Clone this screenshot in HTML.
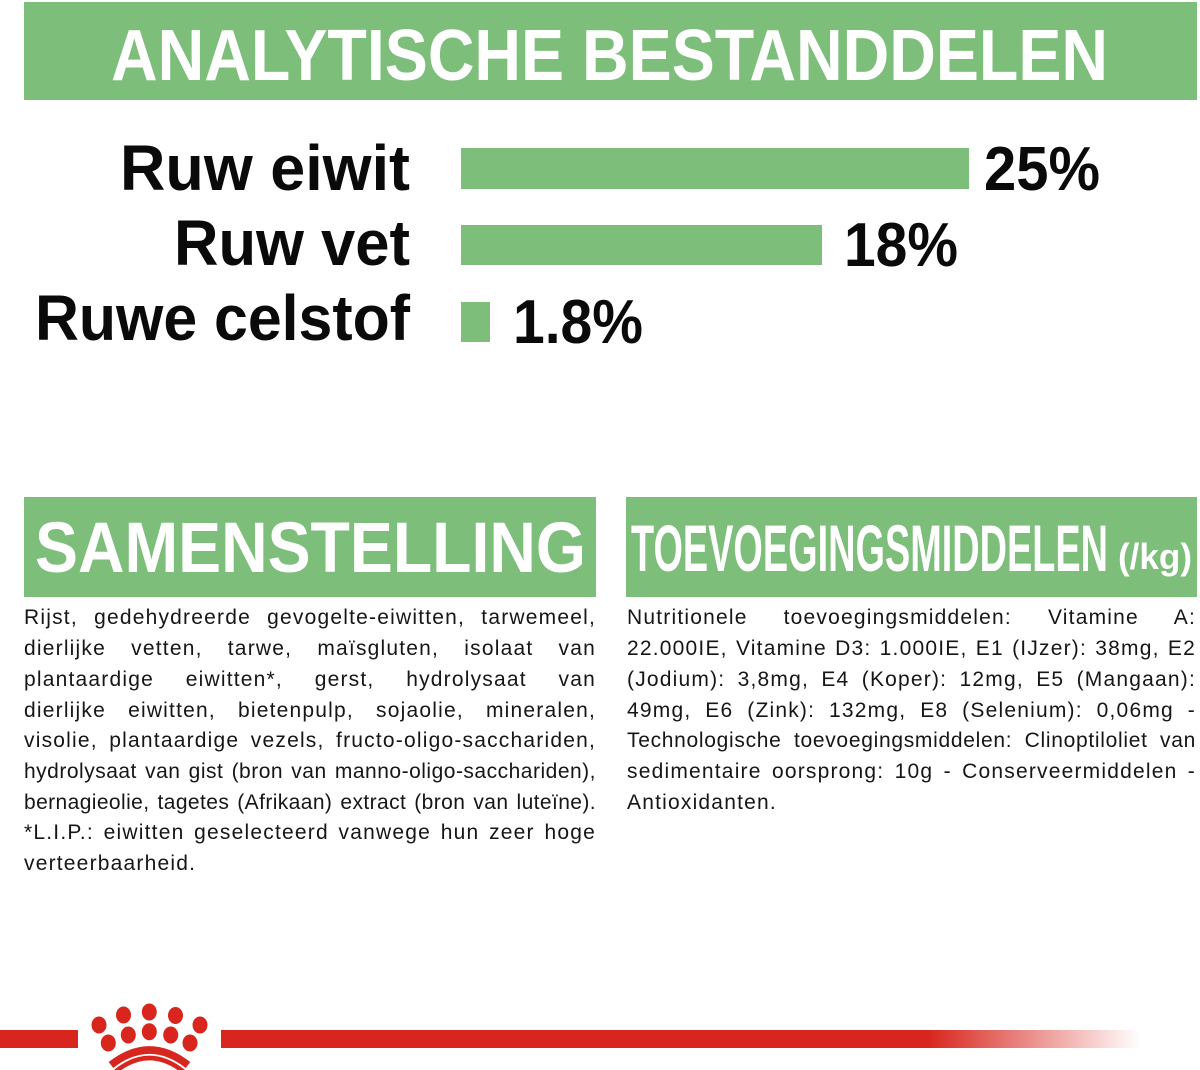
<!DOCTYPE html>
<html>
<head>
<meta charset="utf-8">
<style>
  html,body{margin:0;padding:0;background:#fff;}
  body{width:1200px;height:1070px;overflow:hidden;position:relative;}
  svg{position:absolute;left:0;top:0;}
  .col{position:absolute;font-family:"Liberation Sans",Arial,sans-serif;font-size:21px;line-height:30.7px;color:#161616;letter-spacing:1.2px;}
  .col div{white-space:nowrap;text-align:justify;text-align-last:justify;}
  .col div.last{text-align:left;text-align-last:left;}
  #left{left:24px;top:603.4px;width:572px;}
  #right{left:627px;top:603.4px;width:569px;}
</style>
</head>
<body>
<svg width="1200" height="1070" viewBox="0 0 1200 1070" xmlns="http://www.w3.org/2000/svg">
  <defs>
    <linearGradient id="fade" x1="0" y1="0" x2="1" y2="0" gradientUnits="objectBoundingBox">
      <stop offset="0" stop-color="#d8261e"/>
      <stop offset="0.77" stop-color="#d8261e"/>
      <stop offset="1" stop-color="#d8261e" stop-opacity="0"/>
    </linearGradient>
  </defs>

  <!-- Header -->
  <rect x="24" y="2" width="1173" height="98" fill="#7cbe7a"/>
  <text x="111" y="80" font-family="Liberation Sans, Arial, sans-serif" font-weight="bold" font-size="72" fill="#fff" textLength="997" lengthAdjust="spacingAndGlyphs">ANALYTISCHE BESTANDDELEN</text>

  <!-- Labels -->
  <g font-family="Liberation Sans, Arial, sans-serif" font-weight="bold" fill="#0a0a0a">
    <text x="120" y="190" font-size="64" textLength="290" lengthAdjust="spacingAndGlyphs">Ruw eiwit</text>
    <text x="174" y="265" font-size="64" textLength="236" lengthAdjust="spacingAndGlyphs">Ruw vet</text>
    <text x="35" y="340" font-size="64" textLength="375" lengthAdjust="spacingAndGlyphs">Ruwe celstof</text>

    <text x="984" y="190" font-size="62" textLength="116" lengthAdjust="spacingAndGlyphs">25%</text>
    <text x="844" y="266" font-size="62" textLength="114" lengthAdjust="spacingAndGlyphs">18%</text>
    <text x="513" y="343" font-size="62" textLength="130" lengthAdjust="spacingAndGlyphs">1.8%</text>
  </g>

  <!-- Bars -->
  <rect x="461" y="148" width="508" height="41" fill="#7cbe7a"/>
  <rect x="461" y="225" width="361" height="40" fill="#7cbe7a"/>
  <rect x="461" y="302" width="29" height="40" fill="#7cbe7a"/>

  <!-- Section headers -->
  <rect x="24" y="497" width="572" height="100" fill="#7cbe7a"/>
  <text x="35" y="572" font-family="Liberation Sans, Arial, sans-serif" font-weight="bold" font-size="71" fill="#fff" textLength="551" lengthAdjust="spacingAndGlyphs">SAMENSTELLING</text>

  <rect x="626" y="497" width="571" height="100" fill="#7cbe7a"/>
  <text x="631" y="571" font-family="Liberation Sans, Arial, sans-serif" font-weight="bold" font-size="66" fill="#fff" textLength="477" lengthAdjust="spacingAndGlyphs">TOEVOEGINGSMIDDELEN</text>
  <text x="1118" y="569" font-family="Liberation Sans, Arial, sans-serif" font-weight="bold" font-size="36" fill="#fff" textLength="74" lengthAdjust="spacingAndGlyphs">(/kg)</text>

  <!-- Bottom red line -->
  <rect x="0" y="1030" width="78" height="18" fill="#d8261e"/>
  <rect x="221" y="1030" width="919" height="18" fill="url(#fade)"/>

  <!-- Crown logo -->
  <g fill="#d8261e">
    <ellipse cx="99" cy="1025" rx="7.5" ry="8.5"/>
    <ellipse cx="123.5" cy="1015" rx="7.5" ry="8.5"/>
    <ellipse cx="149.3" cy="1012" rx="7.5" ry="8.5"/>
    <ellipse cx="175.5" cy="1015.5" rx="7.5" ry="8.5"/>
    <ellipse cx="200" cy="1025" rx="7.5" ry="8.5"/>
    <ellipse cx="128.3" cy="1035" rx="7.5" ry="8.5"/>
    <ellipse cx="149.3" cy="1031.7" rx="7.5" ry="8.5"/>
    <ellipse cx="170.7" cy="1035" rx="7.5" ry="8.5"/>
    <ellipse cx="108.3" cy="1043" rx="7.5" ry="8.5"/>
    <ellipse cx="190" cy="1043" rx="7.5" ry="8.5"/>
  </g>
  <path d="M111 1065 Q149.3 1035 188 1065" fill="none" stroke="#d8261e" stroke-width="7.5"/>
  <path d="M115 1072 Q149.3 1044 184 1072" fill="none" stroke="#d8261e" stroke-width="4.5"/>
</svg>

<div class="col" id="left">
  <div>Rijst, gedehydreerde gevogelte-eiwitten, tarwemeel,</div>
  <div>dierlijke vetten, tarwe, maïsgluten, isolaat van</div>
  <div>plantaardige eiwitten*, gerst, hydrolysaat van</div>
  <div>dierlijke eiwitten, bietenpulp, sojaolie, mineralen,</div>
  <div>visolie, plantaardige vezels, fructo-oligo-sacchariden,</div>
  <div style="letter-spacing:0.5px">hydrolysaat van gist (bron van manno-oligo-sacchariden),</div>
  <div style="letter-spacing:0.4px">bernagieolie, tagetes (Afrikaan) extract (bron van luteïne).</div>
  <div>*L.I.P.: eiwitten geselecteerd vanwege hun zeer hoge</div>
  <div class="last">verteerbaarheid.</div>
</div>

<div class="col" id="right">
  <div>Nutritionele toevoegingsmiddelen: Vitamine A:</div>
  <div>22.000IE, Vitamine D3: 1.000IE, E1 (IJzer): 38mg, E2</div>
  <div>(Jodium): 3,8mg, E4 (Koper): 12mg, E5 (Mangaan):</div>
  <div>49mg, E6 (Zink): 132mg, E8 (Selenium): 0,06mg -</div>
  <div style="letter-spacing:0.7px">Technologische toevoegingsmiddelen: Clinoptiloliet van</div>
  <div>sedimentaire oorsprong: 10g - Conserveermiddelen -</div>
  <div class="last">Antioxidanten.</div>
</div>
</body>
</html>
